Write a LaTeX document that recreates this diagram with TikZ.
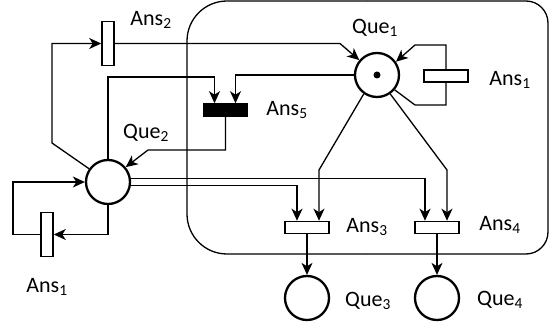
\documentclass[tikz,border=0pt]{standalone}
\usepackage{fontspec}
\setmainfont{Carlito}
\usetikzlibrary{arrows.meta,positioning}

\tikzset{
	place/.style={draw, circle, line width=2.3pt, minimum size=44pt, inner sep=0pt},
	hbar/.style={draw, rectangle, line width=1.6pt, minimum width=44pt, minimum height=12pt, inner sep=0pt},
	vbar/.style={draw, rectangle, line width=1.6pt, minimum width=12pt, minimum height=44pt, inner sep=0pt},
	lbl/.style={font=\fontsize{22}{26}\selectfont, inner sep=0pt},
	arc/.style={line width=1.3pt, -{Stealth[length=12pt, width=11pt, inset=3.5pt]}},
	arcplain/.style={line width=1.3pt},
}

\begin{document}
\begin{tikzpicture}[x=1pt, y=-1pt]
\useasboundingbox (0,0) rectangle (550,326);

% frame
\draw[line width=1.3pt, rounded corners=40pt] (367,1) -- (187,1) -- (187,254) -- (367,254);
\draw[line width=1.3pt, rounded corners=22pt] (367,1) -- (548,1) -- (548,254) -- (367,254);

% places
\node[place] (q1) at (377,75) {};
\node[place] (q2) at (108,182) {};
\node[place] (q3) at (307,298) {};
\node[place] (q4) at (437,298) {};
\node[circle, fill, inner sep=0pt, minimum size=7pt] (tok) at (q1) {};

% transitions
\node[hbar] (a1r) at (446,76) {};
\node[vbar] (a1l) at (47,234.5) {};
\node[vbar] (a2) at (108,43.5) {};
\node[hbar, fill=black] (a5) at (225.5,110) {};
\node[hbar] (a3) at (307,227.5) {};
\node[hbar] (a4) at (437,227.5) {};

% labels
\node[lbl] (q1lab) at (375,28) {Que\textsubscript{1}};
\node[lbl] (q2lab) at (146,133) {Que\textsubscript{2}};
\node[lbl] (q3lab) at (368,301) {Que\textsubscript{3}};
\node[lbl] (q4lab) at (500,300) {Que\textsubscript{4}};
\node[lbl] (a1rlab) at (510,80) {Ans\textsubscript{1}};
\node[lbl] (a1llab) at (47,287) {Ans\textsubscript{1}};
\node[lbl] (a2lab) at (151,20) {Ans\textsubscript{2}};
\node[lbl] (a3lab) at (367,227) {Ans\textsubscript{3}};
\node[lbl] (a4lab) at (500,225) {Ans\textsubscript{4}};
\node[lbl] (a5lab) at (287,110) {Ans\textsubscript{5}};

% arcs
\draw[arc] (q2.145) -- (52,143) |- (a2.west);
\draw[arc] (a2.east) -- (340,43.5) -- (q1.140);
\draw[arc] (a1r.north) |- (415,45) -- (q1.35);
\draw[arcplain] (q1.-40) -- (415,105) -| (a1r.south);
\draw[arc] (q1.west) -| ([xshift=10pt]a5.north);
\draw[arc] (q2.north) -- (108,77) -| ([xshift=-11pt]a5.north);
\draw[arc] (a5.south) |- (148,150) -- (q2.40);
\draw[arc] (q2.south) |- (a1l.east);
\draw[arc] (a1l.west) -- (13,234.5) |- (q2.west);
\draw[arc] (q2.9) -| ([xshift=-12pt]a4.north);
\draw[arc] (q2.-9) -| ([xshift=-10pt]a3.north);
\draw[arc] (q1.-125) -- (319,170) -- ([xshift=12pt]a3.north);
\draw[arc] (q1.-55) -- (447,170) -- ([xshift=10pt]a4.north);
\draw[arc] (a3.south) -- (q3.north);
\draw[arc] (a4.south) -- (q4.north);
\end{tikzpicture}
\end{document}
